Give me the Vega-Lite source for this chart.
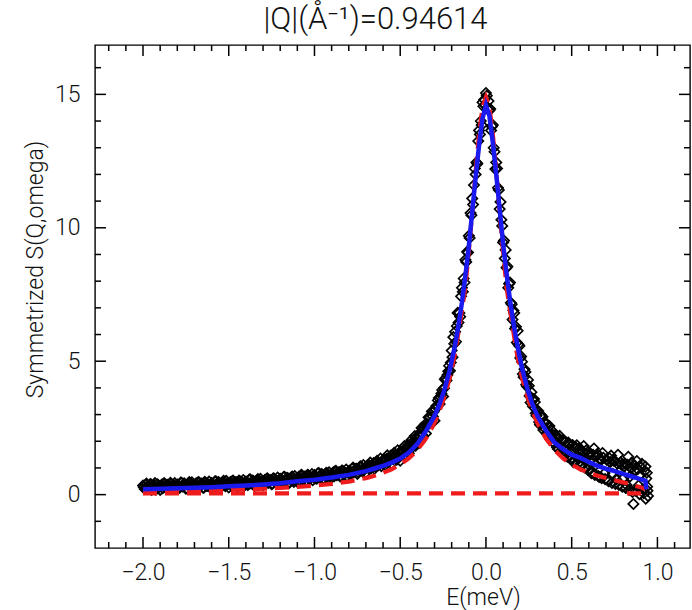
{
  "$schema": "https://vega.github.io/schema/vega-lite/v6.json",
  "width": 595,
  "height": 503,
  "autosize": {"type": "none"},
  "padding": {"left": 95, "top": 45, "right": 2, "bottom": 62},
  "background": "white",
  "title": {"text": "|Q|(Å⁻¹)=0.94614", "anchor": "middle", "dx": -17, "offset": 8, "fontSize": 31, "fontWeight": 300, "font": "Roboto, Liberation Sans", "color": "#111"},
  "config": {
    "view": {"stroke": "#000", "strokeWidth": 1.4},
    "axis": {"grid": false, "domain": false, "labelFont": "Roboto, Liberation Sans", "titleFont": "Roboto, Liberation Sans", "labelFontSize": 23, "labelFontWeight": 300, "titleFontSize": 23, "titleFontWeight": 300, "labelColor": "#111", "titleColor": "#111", "labelOverlap": false, "labelFlush": false}
  },
  "datasets": {
    "obs": [
      {"E":-2.00,"S":0.34},{"E":-1.99,"S":0.21},{"E":-1.98,"S":0.41},{"E":-1.97,"S":0.27},{"E":-1.96,"S":0.38},{"E":-1.95,"S":0.18},{"E":-1.94,"S":0.32},{"E":-1.93,"S":0.43},{"E":-1.92,"S":0.23},{"E":-1.91,"S":0.30},
      {"E":-1.90,"S":0.18},{"E":-1.89,"S":0.38},{"E":-1.88,"S":0.41},{"E":-1.87,"S":0.27},{"E":-1.86,"S":0.37},{"E":-1.85,"S":0.22},{"E":-1.84,"S":0.44},{"E":-1.83,"S":0.30},{"E":-1.82,"S":0.35},{"E":-1.81,"S":0.24},
      {"E":-1.80,"S":0.38},{"E":-1.79,"S":0.25},{"E":-1.78,"S":0.45},{"E":-1.77,"S":0.31},{"E":-1.76,"S":0.42},{"E":-1.75,"S":0.22},{"E":-1.74,"S":0.36},{"E":-1.73,"S":0.47},{"E":-1.72,"S":0.27},{"E":-1.71,"S":0.34},
      {"E":-1.70,"S":0.22},{"E":-1.69,"S":0.42},{"E":-1.68,"S":0.45},{"E":-1.67,"S":0.31},{"E":-1.66,"S":0.41},{"E":-1.65,"S":0.26},{"E":-1.64,"S":0.48},{"E":-1.63,"S":0.34},{"E":-1.62,"S":0.39},{"E":-1.61,"S":0.28},
      {"E":-1.60,"S":0.43},{"E":-1.59,"S":0.30},{"E":-1.58,"S":0.50},{"E":-1.57,"S":0.36},{"E":-1.56,"S":0.47},{"E":-1.55,"S":0.27},{"E":-1.54,"S":0.41},{"E":-1.53,"S":0.52},{"E":-1.52,"S":0.32},{"E":-1.51,"S":0.39},
      {"E":-1.50,"S":0.27},{"E":-1.49,"S":0.47},{"E":-1.48,"S":0.50},{"E":-1.47,"S":0.36},{"E":-1.46,"S":0.46},{"E":-1.45,"S":0.31},{"E":-1.44,"S":0.53},{"E":-1.43,"S":0.39},{"E":-1.42,"S":0.44},{"E":-1.41,"S":0.33},
      {"E":-1.40,"S":0.49},{"E":-1.39,"S":0.36},{"E":-1.38,"S":0.56},{"E":-1.37,"S":0.42},{"E":-1.36,"S":0.53},{"E":-1.35,"S":0.33},{"E":-1.34,"S":0.47},{"E":-1.33,"S":0.58},{"E":-1.32,"S":0.38},{"E":-1.31,"S":0.45},
      {"E":-1.30,"S":0.35},{"E":-1.29,"S":0.55},{"E":-1.28,"S":0.58},{"E":-1.27,"S":0.44},{"E":-1.26,"S":0.54},{"E":-1.25,"S":0.39},{"E":-1.24,"S":0.61},{"E":-1.23,"S":0.47},{"E":-1.22,"S":0.52},{"E":-1.21,"S":0.41},
      {"E":-1.20,"S":0.59},{"E":-1.19,"S":0.46},{"E":-1.18,"S":0.66},{"E":-1.17,"S":0.52},{"E":-1.16,"S":0.63},{"E":-1.15,"S":0.43},{"E":-1.14,"S":0.57},{"E":-1.13,"S":0.68},{"E":-1.12,"S":0.48},{"E":-1.11,"S":0.55},
      {"E":-1.10,"S":0.48},{"E":-1.09,"S":0.68},{"E":-1.08,"S":0.71},{"E":-1.07,"S":0.57},{"E":-1.06,"S":0.67},{"E":-1.05,"S":0.52},{"E":-1.04,"S":0.74},{"E":-1.03,"S":0.60},{"E":-1.02,"S":0.65},{"E":-1.01,"S":0.54},
      {"E":-1.00,"S":0.73},{"E":-0.99,"S":0.60},{"E":-0.98,"S":0.80},{"E":-0.97,"S":0.66},{"E":-0.96,"S":0.77},{"E":-0.95,"S":0.57},{"E":-0.94,"S":0.71},{"E":-0.93,"S":0.82},{"E":-0.92,"S":0.62},{"E":-0.91,"S":0.69},
      {"E":-0.90,"S":0.64},{"E":-0.89,"S":0.84},{"E":-0.88,"S":0.87},{"E":-0.87,"S":0.73},{"E":-0.86,"S":0.83},{"E":-0.85,"S":0.68},{"E":-0.84,"S":0.90},{"E":-0.83,"S":0.76},{"E":-0.82,"S":0.81},{"E":-0.81,"S":0.70},
      {"E":-0.80,"S":0.87},{"E":-0.79,"S":0.75},{"E":-0.78,"S":0.97},{"E":-0.77,"S":0.84},{"E":-0.76,"S":0.96},{"E":-0.75,"S":0.78},{"E":-0.74,"S":0.93},{"E":-0.73,"S":1.06},{"E":-0.72,"S":0.87},{"E":-0.71,"S":0.96},
      {"E":-0.70,"S":0.83},{"E":-0.69,"S":1.05},{"E":-0.68,"S":1.10},{"E":-0.67,"S":0.98},{"E":-0.66,"S":1.10},{"E":-0.65,"S":0.97},{"E":-0.64,"S":1.21},{"E":-0.63,"S":1.09},{"E":-0.62,"S":1.16},{"E":-0.61,"S":1.07},
      {"E":-0.60,"S":1.21},{"E":-0.59,"S":1.10},{"E":-0.58,"S":1.33},{"E":-0.57,"S":1.21},{"E":-0.56,"S":1.35},{"E":-0.55,"S":1.17},{"E":-0.54,"S":1.34},{"E":-0.53,"S":1.48},{"E":-0.52,"S":1.31},{"E":-0.51,"S":1.41},
      {"E":-0.50,"S":1.27},{"E":-0.49,"S":1.55},{"E":-0.48,"S":1.64},{"E":-0.47,"S":1.51},{"E":-0.46,"S":1.68},{"E":-0.45,"S":1.55},{"E":-0.44,"S":1.88},{"E":-0.43,"S":1.77},{"E":-0.42,"S":1.90},{"E":-0.41,"S":1.83},
      {"E":-0.40,"S":2.06},{"E":-0.39,"S":1.95},{"E":-0.38,"S":2.34},{"E":-0.37,"S":2.23},{"E":-0.36,"S":2.50},{"E":-0.35,"S":2.29},{"E":-0.34,"S":2.62},{"E":-0.33,"S":2.89},{"E":-0.32,"S":2.70},{"E":-0.31,"S":2.93},
      {"E":-0.30,"S":2.77},{"E":-0.29,"S":3.32},{"E":-0.28,"S":3.53},{"E":-0.27,"S":3.40},{"E":-0.26,"S":3.79},{"E":-0.25,"S":3.68},{"E":-0.24,"S":4.32},{"E":-0.23,"S":4.28},{"E":-0.22,"S":4.62},{"E":-0.21,"S":4.64},
      {"E":-0.200,"S":5.40},{"E":-0.195,"S":5.15},{"E":-0.190,"S":5.90},{"E":-0.185,"S":5.65},{"E":-0.180,"S":6.10},{"E":-0.175,"S":5.73},{"E":-0.170,"S":6.32},{"E":-0.165,"S":6.81},{"E":-0.160,"S":6.45},{"E":-0.155,"S":6.81},
      {"E":-0.150,"S":6.67},{"E":-0.145,"S":7.43},{"E":-0.140,"S":7.75},{"E":-0.135,"S":7.60},{"E":-0.130,"S":8.10},{"E":-0.125,"S":7.95},{"E":-0.120,"S":8.80},{"E":-0.115,"S":8.72},{"E":-0.110,"S":9.10},{"E":-0.105,"S":9.07},
      {"E":-0.100,"S":9.70},{"E":-0.095,"S":9.62},{"E":-0.090,"S":10.55},{"E":-0.085,"S":10.47},{"E":-0.080,"S":11.10},{"E":-0.075,"S":10.87},{"E":-0.070,"S":11.60},{"E":-0.065,"S":12.22},{"E":-0.060,"S":12.00},{"E":-0.055,"S":12.45},
      {"E":-0.050,"S":12.40},{"E":-0.045,"S":13.25},{"E":-0.040,"S":13.65},{"E":-0.035,"S":13.50},{"E":-0.030,"S":14.00},{"E":-0.025,"S":13.85},{"E":-0.020,"S":14.70},{"E":-0.015,"S":14.55},{"E":-0.010,"S":14.80},{"E":-0.005,"S":14.60},
      {"E":0.000,"S":15.05},{"E":0.005,"S":14.95},{"E":0.010,"S":14.45},{"E":0.015,"S":14.75},{"E":0.020,"S":14.40},{"E":0.025,"S":14.45},{"E":0.030,"S":13.65},{"E":0.035,"S":13.80},{"E":0.040,"S":13.85},{"E":0.045,"S":13.00},
      {"E":0.050,"S":12.85},{"E":0.055,"S":12.20},{"E":0.060,"S":12.45},{"E":0.065,"S":12.22},{"E":0.070,"S":11.50},{"E":0.075,"S":11.42},{"E":0.080,"S":10.70},{"E":0.085,"S":10.97},{"E":0.090,"S":10.30},{"E":0.095,"S":10.07},
      {"E":0.100,"S":9.45},{"E":0.105,"S":9.52},{"E":0.110,"S":8.85},{"E":0.115,"S":9.17},{"E":0.120,"S":8.50},{"E":0.125,"S":8.55},{"E":0.130,"S":7.75},{"E":0.135,"S":7.90},{"E":0.140,"S":7.95},{"E":0.145,"S":7.19},
      {"E":0.150,"S":7.13},{"E":0.155,"S":6.56},{"E":0.160,"S":6.90},{"E":0.165,"S":6.81},{"E":0.170,"S":6.22},{"E":0.175,"S":6.29},{"E":0.180,"S":5.70},{"E":0.185,"S":6.14},{"E":0.190,"S":5.63},{"E":0.195,"S":5.57},
      {"E":0.200,"S":5.12},{"E":0.21,"S":4.98},{"E":0.22,"S":4.40},{"E":0.23,"S":4.60},{"E":0.24,"S":4.05},{"E":0.25,"S":4.08},{"E":0.26,"S":3.45},{"E":0.27,"S":3.58},{"E":0.28,"S":3.58},{"E":0.29,"S":3.05},
      {"E":0.30,"S":3.08},{"E":0.31,"S":2.72},{"E":0.32,"S":2.98},{"E":0.33,"S":2.92},{"E":0.34,"S":2.51},{"E":0.35,"S":2.63},{"E":0.36,"S":2.24},{"E":0.37,"S":2.57},{"E":0.38,"S":2.21},{"E":0.39,"S":2.24},
      {"E":0.40,"S":1.93},{"E":0.41,"S":2.15},{"E":0.42,"S":1.71},{"E":0.43,"S":2.20},{"E":0.44,"S":1.79},{"E":0.45,"S":2.01},{"E":0.46,"S":1.46},{"E":0.47,"S":1.81},{"E":0.48,"S":1.95},{"E":0.49,"S":1.46},
      {"E":0.50,"S":1.63},{"E":0.51,"S":1.22},{"E":0.52,"S":1.79},{"E":0.53,"S":1.85},{"E":0.54,"S":1.34},{"E":0.55,"S":1.68},{"E":0.56,"S":1.17},{"E":0.57,"S":1.82},{"E":0.58,"S":1.34},{"E":0.59,"S":1.51},
      {"E":0.60,"S":1.12},{"E":0.61,"S":1.54},{"E":0.62,"S":0.86},{"E":0.63,"S":1.73},{"E":0.64,"S":1.11},{"E":0.65,"S":1.53},{"E":0.66,"S":0.66},{"E":0.67,"S":1.29},{"E":0.68,"S":1.56},{"E":0.69,"S":0.79},
      {"E":0.70,"S":1.12},{"E":0.71,"S":0.55},{"E":0.72,"S":1.36},{"E":0.73,"S":1.46},{"E":0.74,"S":0.78},{"E":0.75,"S":1.26},{"E":0.76,"S":0.57},{"E":0.77,"S":1.49},{"E":0.78,"S":0.86},{"E":0.79,"S":1.12},
      {"E":0.80,"S":0.60},{"E":0.81,"S":1.16},{"E":0.82,"S":0.36},{"E":0.83,"S":1.42},{"E":0.84,"S":0.68},{"E":0.85,"S":1.20},{"E":0.86,"S":-0.35},{"E":0.87,"S":0.92},{"E":0.88,"S":1.26},{"E":0.89,"S":0.34},
      {"E":0.90,"S":0.74},{"E":0.91,"S":1.15},{"E":0.92,"S":0.05},{"E":0.93,"S":1.05},{"E":0.935,"S":0.60},{"E":0.94,"S":0.30},{"E":0.945,"S":-0.05},
      {"E":-1.995,"S":0.28},{"E":-1.985,"S":0.36},{"E":-1.975,"S":0.22},{"E":-1.965,"S":0.31},{"E":-1.955,"S":0.40},{"E":-1.945,"S":0.26},{"E":-1.935,"S":0.35},{"E":-1.925,"S":0.19},{"E":-1.915,"S":0.39},{"E":-1.905,"S":0.29},
      {"E":-1.895,"S":0.33},{"E":-1.885,"S":0.24},{"E":-1.875,"S":0.42},{"E":-1.865,"S":0.30},{"E":-1.855,"S":0.36},{"E":-1.845,"S":0.21},{"E":-1.835,"S":0.40},{"E":-1.825,"S":0.28},{"E":-1.815,"S":0.43},{"E":-1.805,"S":0.32},
      {"E":-1.795,"S":0.35},{"E":-1.785,"S":0.27},{"E":-1.775,"S":0.44},{"E":-1.765,"S":0.33},{"E":-1.755,"S":0.38},{"E":-1.745,"S":0.24},{"E":-1.735,"S":0.42},{"E":-1.725,"S":0.30},{"E":-1.715,"S":0.46},{"E":-1.705,"S":0.34},
      {"E":-1.695,"S":0.37},{"E":-1.685,"S":0.28},{"E":-1.675,"S":0.47},{"E":-1.665,"S":0.35},{"E":-1.655,"S":0.40},{"E":-1.645,"S":0.26},{"E":-1.635,"S":0.44},{"E":-1.625,"S":0.33},{"E":-1.615,"S":0.49},{"E":-1.605,"S":0.36},
      {"E":-1.595,"S":0.40},{"E":-1.585,"S":0.31},{"E":-1.575,"S":0.50},{"E":-1.565,"S":0.38},{"E":-1.555,"S":0.43},{"E":-1.545,"S":0.29},{"E":-1.535,"S":0.47},{"E":-1.525,"S":0.36},{"E":-1.515,"S":0.52},{"E":-1.505,"S":0.40},
      {"E":-1.495,"S":0.43},{"E":-1.485,"S":0.34},{"E":-1.475,"S":0.53},{"E":-1.465,"S":0.41},{"E":-1.455,"S":0.46},{"E":-1.445,"S":0.32},{"E":-1.435,"S":0.50},{"E":-1.425,"S":0.39},{"E":-1.415,"S":0.55},{"E":-1.405,"S":0.43},
      {"E":-1.395,"S":0.47},{"E":-1.385,"S":0.38},{"E":-1.375,"S":0.57},{"E":-1.365,"S":0.45},{"E":-1.355,"S":0.50},{"E":-1.345,"S":0.36},{"E":-1.335,"S":0.54},{"E":-1.325,"S":0.43},{"E":-1.315,"S":0.59},{"E":-1.305,"S":0.47},
      {"E":-1.295,"S":0.51},{"E":-1.285,"S":0.42},{"E":-1.275,"S":0.61},{"E":-1.265,"S":0.49},{"E":-1.255,"S":0.55},{"E":-1.245,"S":0.41},{"E":-1.235,"S":0.59},{"E":-1.225,"S":0.48},{"E":-1.215,"S":0.64},{"E":-1.205,"S":0.52},
      {"E":-1.195,"S":0.57},{"E":-1.185,"S":0.48},{"E":-1.175,"S":0.67},{"E":-1.165,"S":0.55},{"E":-1.155,"S":0.61},{"E":-1.145,"S":0.47},{"E":-1.135,"S":0.65},{"E":-1.125,"S":0.54},{"E":-1.115,"S":0.70},{"E":-1.105,"S":0.58},
      {"E":-1.095,"S":0.63},{"E":-1.085,"S":0.54},{"E":-1.075,"S":0.74},{"E":-1.065,"S":0.62},{"E":-1.055,"S":0.68},{"E":-1.045,"S":0.54},{"E":-1.035,"S":0.72},{"E":-1.025,"S":0.61},{"E":-1.015,"S":0.77},{"E":-1.005,"S":0.65},
      {"E":-0.995,"S":0.70},{"E":-0.985,"S":0.61},{"E":-0.975,"S":0.81},{"E":-0.965,"S":0.69},{"E":-0.955,"S":0.75},{"E":-0.945,"S":0.61},{"E":-0.935,"S":0.79},{"E":-0.925,"S":0.68},{"E":-0.915,"S":0.84},{"E":-0.905,"S":0.72},
      {"E":-0.895,"S":0.78},{"E":-0.885,"S":0.69},{"E":-0.875,"S":0.89},{"E":-0.865,"S":0.77},{"E":-0.855,"S":0.84},{"E":-0.845,"S":0.70},{"E":-0.835,"S":0.89},{"E":-0.825,"S":0.78},{"E":-0.815,"S":0.94},{"E":-0.805,"S":0.83},
      {"E":-0.795,"S":0.89},{"E":-0.785,"S":0.81},{"E":-0.775,"S":1.01},{"E":-0.765,"S":0.90},{"E":-0.755,"S":0.97},{"E":-0.745,"S":0.84},{"E":-0.735,"S":1.04},{"E":-0.725,"S":0.94},{"E":-0.715,"S":1.11},{"E":-0.705,"S":1.00},
      {"E":-0.695,"S":1.07},{"E":-0.685,"S":0.99},{"E":-0.675,"S":1.20},{"E":-0.665,"S":1.10},{"E":-0.655,"S":1.18},{"E":-0.645,"S":1.06},{"E":-0.635,"S":1.27},{"E":-0.625,"S":1.18},{"E":-0.615,"S":1.35},{"E":-0.605,"S":1.25},
      {"E":-0.595,"S":1.32},{"E":-0.585,"S":1.25},{"E":-0.575,"S":1.47},{"E":-0.565,"S":1.38},{"E":-0.555,"S":1.46},{"E":-0.545,"S":1.35},{"E":-0.535,"S":1.57},{"E":-0.525,"S":1.49},{"E":-0.515,"S":1.66},{"E":-0.505,"S":1.58},
      {"E":-0.495,"S":1.62},{"E":-0.485,"S":1.57},{"E":-0.475,"S":1.82},{"E":-0.465,"S":1.74},{"E":-0.455,"S":1.86},{"E":-0.445,"S":1.78},{"E":-0.435,"S":2.04},{"E":-0.425,"S":1.99},{"E":-0.415,"S":2.19},{"E":-0.405,"S":2.12},
      {"E":-0.395,"S":2.22},{"E":-0.385,"S":2.21},{"E":-0.375,"S":2.50},{"E":-0.365,"S":2.47},{"E":-0.355,"S":2.63},{"E":-0.345,"S":2.61},{"E":-0.335,"S":2.90},{"E":-0.325,"S":2.91},{"E":-0.315,"S":3.12},{"E":-0.305,"S":3.11},
      {"E":-0.295,"S":3.21},{"E":-0.285,"S":3.30},{"E":-0.275,"S":3.62},{"E":-0.265,"S":3.66},{"E":-0.255,"S":3.92},{"E":-0.245,"S":3.99},{"E":-0.235,"S":4.37},{"E":-0.225,"S":4.48},{"E":-0.215,"S":4.83},{"E":-0.205,"S":4.95},
      {"E":0.205,"S":5.18},{"E":0.215,"S":4.52},{"E":0.225,"S":4.70},{"E":0.235,"S":4.12},{"E":0.245,"S":4.30},{"E":0.255,"S":3.70},{"E":0.265,"S":3.84},{"E":0.275,"S":3.30},{"E":0.285,"S":3.47},{"E":0.295,"S":2.96},
      {"E":0.305,"S":3.13},{"E":0.315,"S":2.62},{"E":0.325,"S":2.88},{"E":0.335,"S":2.42},{"E":0.345,"S":2.71},{"E":0.355,"S":2.30},{"E":0.365,"S":2.55},{"E":0.375,"S":2.08},{"E":0.385,"S":2.39},{"E":0.395,"S":1.94},
      {"E":0.405,"S":2.24},{"E":0.415,"S":1.77},{"E":0.425,"S":2.11},{"E":0.435,"S":1.63},{"E":0.445,"S":2.03},{"E":0.455,"S":1.55},{"E":0.465,"S":1.98},{"E":0.475,"S":1.42},{"E":0.485,"S":1.87},{"E":0.495,"S":1.35},
      {"E":0.505,"S":1.86},{"E":0.515,"S":1.30},{"E":0.525,"S":1.72},{"E":0.535,"S":1.16},{"E":0.545,"S":1.74},{"E":0.555,"S":1.08},{"E":0.565,"S":1.62},{"E":0.575,"S":1.02},{"E":0.585,"S":1.66},{"E":0.595,"S":0.93},
      {"E":0.605,"S":1.48},{"E":0.615,"S":0.80},{"E":0.625,"S":1.49},{"E":0.635,"S":0.74},{"E":0.645,"S":1.44},{"E":0.655,"S":0.70},{"E":0.665,"S":1.36},{"E":0.675,"S":0.62},{"E":0.685,"S":1.38},{"E":0.695,"S":0.58},
      {"E":0.705,"S":1.30},{"E":0.715,"S":0.50},{"E":0.725,"S":1.22},{"E":0.735,"S":0.44},{"E":0.745,"S":1.28},{"E":0.755,"S":0.40},{"E":0.765,"S":1.17},{"E":0.775,"S":0.36},{"E":0.785,"S":1.21},{"E":0.795,"S":0.30},
      {"E":0.805,"S":1.05},{"E":0.815,"S":0.25},{"E":0.825,"S":1.12},{"E":0.835,"S":0.18},{"E":0.845,"S":1.00},{"E":0.855,"S":0.10},{"E":0.865,"S":1.08},{"E":0.875,"S":0.14},{"E":0.885,"S":0.95},{"E":0.895,"S":0.02},
      {"E":0.905,"S":1.02},{"E":0.915,"S":0.20},{"E":0.925,"S":0.88},{"E":0.932,"S":-0.15},{"E":0.938,"S":0.82},{"E":0.942,"S":0.15}
    ],
    "fit": [
      {"E":-2.0,"S":0.2},{"E":-1.9,"S":0.22},{"E":-1.8,"S":0.24},{"E":-1.7,"S":0.26},{"E":-1.6,"S":0.28},{"E":-1.5,"S":0.31},{"E":-1.4,"S":0.34},{"E":-1.3,"S":0.38},{"E":-1.2,"S":0.43},{"E":-1.1,"S":0.5},
      {"E":-1.0,"S":0.56},{"E":-0.9,"S":0.64},{"E":-0.8,"S":0.74},{"E":-0.7,"S":0.88},{"E":-0.65,"S":0.98},{"E":-0.6,"S":1.08},{"E":-0.55,"S":1.2},{"E":-0.5,"S":1.35},{"E":-0.45,"S":1.58},{"E":-0.4,"S":1.9},
      {"E":-0.35,"S":2.38},{"E":-0.3,"S":2.95},{"E":-0.27,"S":3.4},{"E":-0.24,"S":3.98},{"E":-0.21,"S":4.7},{"E":-0.18,"S":5.6},{"E":-0.16,"S":6.35},{"E":-0.14,"S":7.2},{"E":-0.12,"S":8.2},{"E":-0.10,"S":9.3},
      {"E":-0.08,"S":10.6},{"E":-0.06,"S":11.9},{"E":-0.04,"S":13.1},{"E":-0.02,"S":14.1},{"E":0.0,"S":14.6},{"E":0.02,"S":14.2},{"E":0.04,"S":13.2},{"E":0.06,"S":12.0},{"E":0.08,"S":10.7},{"E":0.10,"S":9.4},
      {"E":0.12,"S":8.3},{"E":0.14,"S":7.3},{"E":0.16,"S":6.45},{"E":0.18,"S":5.7},{"E":0.21,"S":4.75},{"E":0.24,"S":4.0},{"E":0.27,"S":3.4},{"E":0.30,"S":2.95},{"E":0.35,"S":2.4},{"E":0.40,"S":1.95},
      {"E":0.45,"S":1.7},{"E":0.50,"S":1.5},{"E":0.55,"S":1.38},{"E":0.60,"S":1.22},{"E":0.65,"S":1.08},{"E":0.70,"S":0.97},{"E":0.75,"S":0.88},{"E":0.80,"S":0.78},{"E":0.85,"S":0.68},{"E":0.90,"S":0.58},
      {"E":0.93,"S":0.52},{"E":0.935,"S":0.2}
    ],
    "lor": [
      {"E":-2.0,"S":0.12},{"E":-1.9,"S":0.13},{"E":-1.8,"S":0.14},{"E":-1.7,"S":0.15},{"E":-1.6,"S":0.16},{"E":-1.5,"S":0.18},{"E":-1.4,"S":0.2},{"E":-1.3,"S":0.22},{"E":-1.2,"S":0.25},{"E":-1.1,"S":0.29},
      {"E":-1.0,"S":0.34},{"E":-0.9,"S":0.40},{"E":-0.8,"S":0.49},{"E":-0.7,"S":0.62},{"E":-0.65,"S":0.71},{"E":-0.6,"S":0.82},{"E":-0.55,"S":0.95},{"E":-0.5,"S":1.13},{"E":-0.45,"S":1.36},{"E":-0.4,"S":1.67},
      {"E":-0.35,"S":2.1},{"E":-0.3,"S":2.68},{"E":-0.27,"S":3.15},{"E":-0.24,"S":3.7},{"E":-0.21,"S":4.4},{"E":-0.18,"S":5.3},{"E":-0.16,"S":6.1},{"E":-0.14,"S":6.9},{"E":-0.12,"S":7.78},{"E":-0.10,"S":9.1},
      {"E":-0.08,"S":10.58},{"E":-0.06,"S":12.12},{"E":-0.04,"S":13.52},{"E":-0.02,"S":14.53},{"E":0.0,"S":14.9},{"E":0.02,"S":14.53},{"E":0.04,"S":13.52},{"E":0.06,"S":12.12},{"E":0.08,"S":10.58},{"E":0.10,"S":9.1},
      {"E":0.12,"S":7.78},{"E":0.14,"S":6.9},{"E":0.16,"S":6.1},{"E":0.18,"S":5.3},{"E":0.21,"S":4.4},{"E":0.24,"S":3.7},{"E":0.27,"S":3.15},{"E":0.30,"S":2.68},{"E":0.35,"S":2.1},{"E":0.40,"S":1.67},
      {"E":0.45,"S":1.36},{"E":0.50,"S":1.13},{"E":0.55,"S":0.95},{"E":0.60,"S":0.82},{"E":0.65,"S":0.71},{"E":0.70,"S":0.62},{"E":0.75,"S":0.54},{"E":0.80,"S":0.46},{"E":0.85,"S":0.38},{"E":0.90,"S":0.28},
      {"E":0.93,"S":0.2}
    ],
    "bg": [
      {"E":-2.0,"S":0.05},{"E":0.93,"S":0.05}
    ],
    "xmaj": [{"v":-2},{"v":-1.5},{"v":-1},{"v":-0.5},{"v":0},{"v":0.5},{"v":1}],
    "xmin": [{"v":-2.2},{"v":-2.1},{"v":-1.9},{"v":-1.8},{"v":-1.7},{"v":-1.6},{"v":-1.4},{"v":-1.3},{"v":-1.2},{"v":-1.1},{"v":-0.9},{"v":-0.8},{"v":-0.7},{"v":-0.6},{"v":-0.4},{"v":-0.3},{"v":-0.2},{"v":-0.1},{"v":0.1},{"v":0.2},{"v":0.3},{"v":0.4},{"v":0.6},{"v":0.7},{"v":0.8},{"v":0.9},{"v":1.1}],
    "ymaj": [{"v":0},{"v":5},{"v":10},{"v":15}],
    "ymin": [{"v":-1},{"v":1},{"v":2},{"v":3},{"v":4},{"v":6},{"v":7},{"v":8},{"v":9},{"v":11},{"v":12},{"v":13},{"v":14},{"v":16}]
  },
  "layer": [
    {
      "data": {"name": "obs"},
      "mark": {"type": "point", "shape": "diamond", "filled": false, "stroke": "#000", "strokeWidth": 1.7, "size": 105, "opacity": 1},
      "encoding": {
        "x": {"field": "E", "type": "quantitative", "scale": {"domain": [-2.28, 1.19], "nice": false, "zero": false},
              "axis": {"orient": "bottom", "values": [-2, -1.5, -1, -0.5, 0, 0.5, 1], "format": ".1f", "ticks": false, "labelPadding": 13,
                       "title": "E(meV)", "titleX": 388, "titleY": 49, "titleBaseline": "middle", "titleAlign": "center"}},
        "y": {"field": "S", "type": "quantitative", "scale": {"domain": [-2, 16.85], "nice": false, "zero": false},
              "axis": {"orient": "left", "values": [0, 5, 10, 15], "format": "d", "ticks": false, "labelPadding": 15,
                       "title": "Symmetrized S(Q,omega)", "titleX": -60, "titleY": 224, "titleAngle": 270, "titleBaseline": "middle", "titleAlign": "center"}}
      }
    },
    {
      "data": {"name": "bg"},
      "mark": {"type": "line", "color": "#ee1c1c", "strokeWidth": 4.2, "strokeDash": [14, 8]},
      "encoding": {"x": {"field": "E", "type": "quantitative"}, "y": {"field": "S", "type": "quantitative"}}
    },
    {
      "data": {"name": "lor"},
      "mark": {"type": "line", "color": "#ee1c1c", "strokeWidth": 4.2, "strokeDash": [14, 8]},
      "encoding": {"x": {"field": "E", "type": "quantitative"}, "y": {"field": "S", "type": "quantitative"}}
    },
    {
      "data": {"name": "fit"},
      "mark": {"type": "line", "color": "#1a1aee", "strokeWidth": 4.5},
      "encoding": {"x": {"field": "E", "type": "quantitative"}, "y": {"field": "S", "type": "quantitative"}}
    },
    {
      "data": {"name": "xmaj"},
      "mark": {"type": "rule", "color": "#000", "strokeWidth": 1.5, "y2Offset": -11},
      "encoding": {"x": {"field": "v", "type": "quantitative"}, "y": {"datum": -2, "type": "quantitative"}, "y2": {"datum": -2}}
    },
    {
      "data": {"name": "xmaj"},
      "mark": {"type": "rule", "color": "#000", "strokeWidth": 1.5, "y2Offset": 11},
      "encoding": {"x": {"field": "v", "type": "quantitative"}, "y": {"datum": 16.85, "type": "quantitative"}, "y2": {"datum": 16.85}}
    },
    {
      "data": {"name": "xmin"},
      "mark": {"type": "rule", "color": "#000", "strokeWidth": 1.5, "y2Offset": -6},
      "encoding": {"x": {"field": "v", "type": "quantitative"}, "y": {"datum": -2, "type": "quantitative"}, "y2": {"datum": -2}}
    },
    {
      "data": {"name": "xmin"},
      "mark": {"type": "rule", "color": "#000", "strokeWidth": 1.5, "y2Offset": 6},
      "encoding": {"x": {"field": "v", "type": "quantitative"}, "y": {"datum": 16.85, "type": "quantitative"}, "y2": {"datum": 16.85}}
    },
    {
      "data": {"name": "ymaj"},
      "mark": {"type": "rule", "color": "#000", "strokeWidth": 1.5, "x2Offset": 11},
      "encoding": {"y": {"field": "v", "type": "quantitative"}, "x": {"datum": -2.28, "type": "quantitative"}, "x2": {"datum": -2.28}}
    },
    {
      "data": {"name": "ymaj"},
      "mark": {"type": "rule", "color": "#000", "strokeWidth": 1.5, "x2Offset": -11},
      "encoding": {"y": {"field": "v", "type": "quantitative"}, "x": {"datum": 1.19, "type": "quantitative"}, "x2": {"datum": 1.19}}
    },
    {
      "data": {"name": "ymin"},
      "mark": {"type": "rule", "color": "#000", "strokeWidth": 1.5, "x2Offset": 6},
      "encoding": {"y": {"field": "v", "type": "quantitative"}, "x": {"datum": -2.28, "type": "quantitative"}, "x2": {"datum": -2.28}}
    },
    {
      "data": {"name": "ymin"},
      "mark": {"type": "rule", "color": "#000", "strokeWidth": 1.5, "x2Offset": -6},
      "encoding": {"y": {"field": "v", "type": "quantitative"}, "x": {"datum": 1.19, "type": "quantitative"}, "x2": {"datum": 1.19}}
    }
  ]
}
